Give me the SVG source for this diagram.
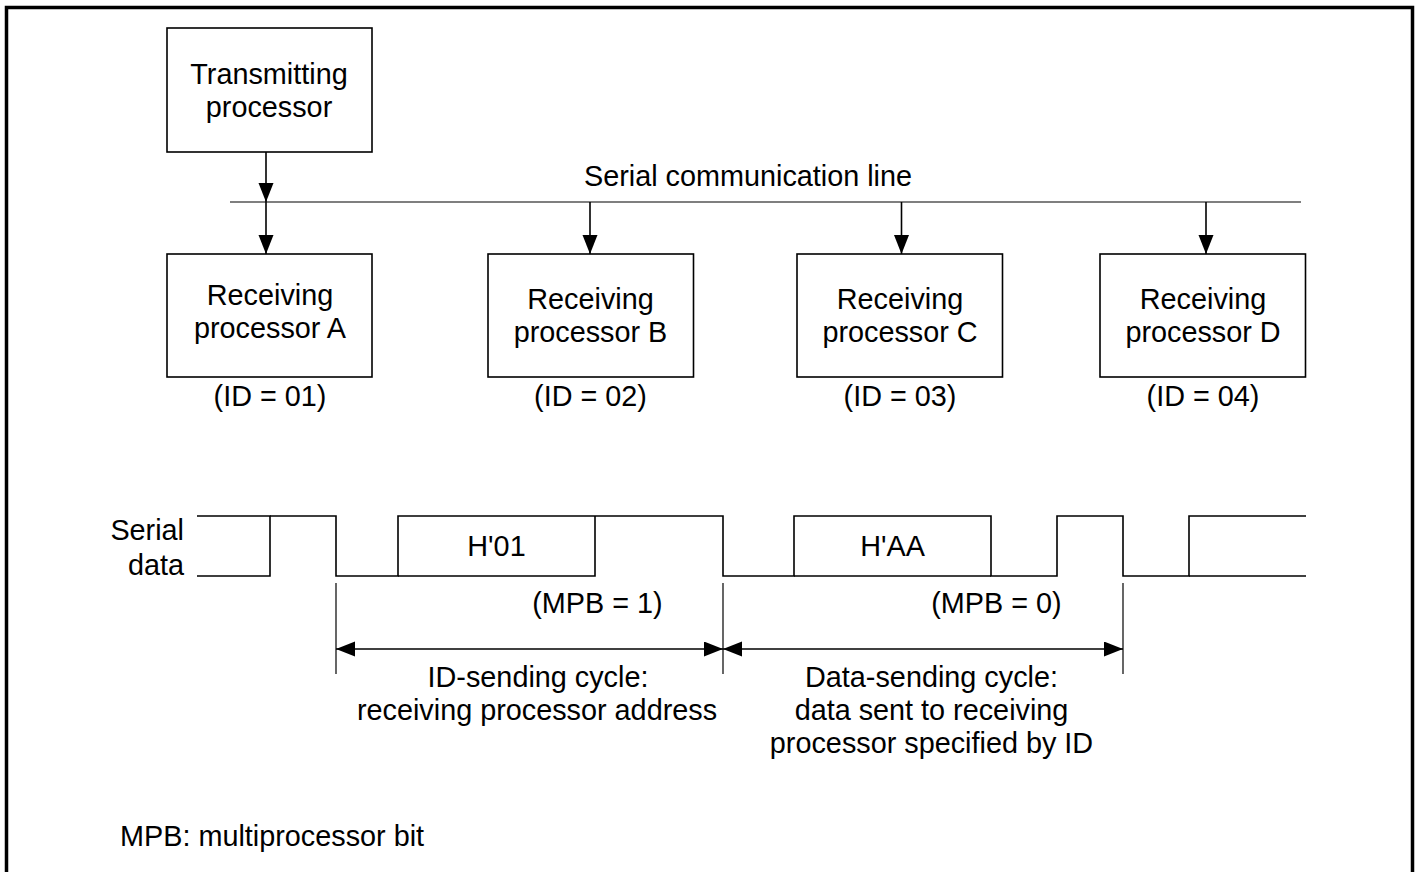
<svg xmlns="http://www.w3.org/2000/svg" width="1417" height="872" viewBox="0 0 1417 872">
<style>
text{font-family:"Liberation Sans",Arial,sans-serif;font-size:28.8px;fill:#000;text-anchor:middle}
.box{fill:#fff;stroke:#000;stroke-width:1.6}
.ln{fill:none;stroke:#000;stroke-width:1.6}
.thin{fill:none;stroke:#000;stroke-width:1.2}
</style>
<defs>
<marker id="ah" markerUnits="userSpaceOnUse" markerWidth="20" markerHeight="16" refX="19" refY="7.5" orient="auto-start-reverse">
<path d="M0,0 L19,7.5 L0,15 Z" fill="#000"/>
</marker>
</defs>
<rect width="1417" height="872" fill="#fff"/>
<path d="M6.5,872 V7.5 H1412.5 V872" fill="none" stroke="#000" stroke-width="3.5"/>

<g id="transmitter">
<rect class="box" x="167" y="28" width="205" height="124"/>
<text x="269" y="84">Transmitting</text>
<text x="269" y="117">processor</text>
</g>

<g id="bus">
<line class="thin" x1="230" y1="202" x2="1301" y2="202"/>
<text x="748" y="186">Serial communication line</text>
</g>

<g id="recvA">
<rect class="box" x="167" y="254" width="205" height="123"/>
<text x="270" y="305">Receiving</text>
<text x="270" y="338">processor A</text>
<text x="270" y="406">(ID = 01)</text>
</g>
<g id="recvB">
<rect class="box" x="488" y="254" width="205.5" height="123"/>
<text x="590.5" y="309">Receiving</text>
<text x="590.5" y="342">processor B</text>
<text x="590.5" y="406">(ID = 02)</text>
</g>
<g id="recvC">
<rect class="box" x="797" y="254" width="205.5" height="123"/>
<text x="900" y="309">Receiving</text>
<text x="900" y="342">processor C</text>
<text x="900" y="406">(ID = 03)</text>
</g>
<g id="recvD">
<rect class="box" x="1100" y="254" width="205.5" height="123"/>
<text x="1203" y="309">Receiving</text>
<text x="1203" y="342">processor D</text>
<text x="1203" y="406">(ID = 04)</text>
</g>

<g id="connectors">
<line class="ln" x1="266" y1="152" x2="266" y2="202" marker-end="url(#ah)"/>
<line class="ln" x1="266" y1="202" x2="266" y2="254" marker-end="url(#ah)"/>
<line class="ln" x1="590" y1="202" x2="590" y2="254" marker-end="url(#ah)"/>
<line class="ln" x1="901.5" y1="202" x2="901.5" y2="254" marker-end="url(#ah)"/>
<line class="ln" x1="1206" y1="202" x2="1206" y2="254" marker-end="url(#ah)"/>
</g>

<g id="serial-data">
<text x="184" y="540" style="text-anchor:end">Serial</text>
<text x="184" y="575" style="text-anchor:end">data</text>
<path class="ln" d="M197,516 H270 V576 H197"/>
<path class="ln" d="M270,516 H336 V576 H398 V516 H723 V576 H794 V516 H991 V576 H1057 V516 H1123 V576 H1189 V516 H1306"/>
<path class="ln" d="M398,576 H595 V516"/>
<path class="ln" d="M794,576 H991"/>
<path class="ln" d="M1189,576 H1306"/>
<text x="496.5" y="556">H'01</text>
<text x="892.5" y="556">H'AA</text>
<text x="597.5" y="613">(MPB = 1)</text>
<text x="996.5" y="613">(MPB = 0)</text>
</g>

<g id="cycles">
<line class="thin" x1="336" y1="583" x2="336" y2="674"/>
<line class="thin" x1="723" y1="583" x2="723" y2="674"/>
<line class="thin" x1="1123" y1="583" x2="1123" y2="674"/>
<line class="ln" x1="336" y1="649" x2="723" y2="649" marker-start="url(#ah)" marker-end="url(#ah)"/>
<line class="ln" x1="723" y1="649" x2="1123" y2="649" marker-start="url(#ah)" marker-end="url(#ah)"/>
<text x="538" y="687">ID-sending cycle:</text>
<text x="537" y="720">receiving processor address</text>
<text x="931.5" y="687">Data-sending cycle:</text>
<text x="931.5" y="720">data sent to receiving</text>
<text x="931.5" y="753">processor specified by ID</text>
</g>

<text x="120" y="846" style="text-anchor:start">MPB: multiprocessor bit</text>
</svg>
